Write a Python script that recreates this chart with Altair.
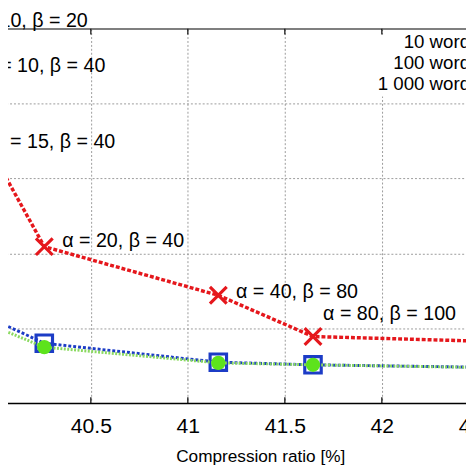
import altair as alt
import pandas as pd

# compression ratio [%] of each parameter setting (first three lie left of the visible area)
ratio = [39.73, 39.83, 39.92, 40.26, 41.157, 41.645, 42.9]

# one curve per dictionary size (y axis itself is outside the picture)
words_10 = [5.20, 4.54, 3.68, 2.09, 1.44, 0.89, 0.80]
words_100 = [1.44, 1.32, 1.21, 0.80, 0.547, 0.512, 0.465]
words_1000 = [1.31, 1.21, 1.11, 0.748, 0.538, 0.512, 0.46]

# parameter annotations next to the red curve
param_labels = ["α = 10, β = 20", "α = 10, β = 40", "α = 15, β = 40",
                "α = 20, β = 40", "α = 40, β = 80", "α = 80, β = 100"]
label_ratio = [39.855, 39.946, 39.997, 40.352, 41.248, 41.697]
label_val = [5.10, 4.50, 3.49, 2.165, 1.483, 1.194]

legend_labels = ["10 words", "100 words", "1 000 words"]
tick_values = [40, 40.5, 41, 41.5, 42, 42.5]

FONT = "Liberation Sans"
W, H = 493.5, 381

x_scale = alt.Scale(domain=[40, 42.5], nice=False, zero=False)
y_scale = alt.Scale(domain=[0, 5], nice=False, zero=False)

x_axis = alt.Axis(values=tick_values, format=".1~f", grid=True, gridDash=[2, 2],
                  gridColor="#9a9a9a", gridWidth=1, ticks=False, labelFontSize=21.5,
                  labelPadding=13, labelColor="black", labelFlush=False, labelOverlap=False,
                  domainColor="black", domainWidth=1.2, titleFontSize=17.5,
                  titleFontWeight="normal", titleColor="black", titleX=271, titleY=59,
                  titleBaseline="alphabetic", titleAlign="center")
y_axis = alt.Axis(values=[1, 2, 3, 4], grid=True, gridDash=[2, 2], gridColor="#9a9a9a",
                  gridWidth=1, labels=False, ticks=False, domain=False, title=None)

# 그리드용 빈 레이어
grid_df = pd.DataFrame({"ratio": [40.0], "val": [0.0]})
grid = alt.Chart(grid_df).mark_point(opacity=0).encode(
    x=alt.X("ratio:Q", scale=x_scale, axis=x_axis, title="Compression ratio [%]"),
    y=alt.Y("val:Q", scale=y_scale, axis=y_axis)
)

# white legend box (symbols are cut off on the right)
legend_box = alt.Chart(pd.DataFrame({"a": [0]})).mark_rect(fill="white").encode(
    x=alt.value(378), x2=alt.value(500), y=alt.value(6), y2=alt.value(69)
)

series = [
    ("10 words", words_10, "#e5171c", [4, 2], 3.5, "M-1,-1L1,1M-1,1L1,-1", False, 290),
    ("100 words", words_100, "#1c3cc6", [3, 2], 3.0, "square", False, 280),
    ("1 000 words", words_1000, "#5de31c", [2, 1.5], 3.0, "circle", True, 210),
]

layers = [grid, legend_box]
for name, vals, color, dash, lw, shape, filled, size in series:
    df = pd.DataFrame({"ratio": ratio, "val": vals})
    line_color = "#8ad95f" if name == "1 000 words" else color
    line = alt.Chart(df).mark_line(color=line_color, strokeDash=dash, strokeWidth=lw).encode(
        x=alt.X("ratio:Q", scale=x_scale), y=alt.Y("val:Q", scale=y_scale)
    )
    if filled:
        pts = alt.Chart(df).mark_point(shape=shape, filled=True, fill=color, size=size,
                                       opacity=1, strokeWidth=0)
    else:
        pts = alt.Chart(df).mark_point(shape=shape, filled=False, stroke=color, size=size,
                                       opacity=1, strokeWidth=3.2)
    pts = pts.encode(x=alt.X("ratio:Q", scale=x_scale), y=alt.Y("val:Q", scale=y_scale))
    layers += [line, pts]

label_df = pd.DataFrame({"ratio": label_ratio, "val": label_val, "txt": param_labels})
labels = alt.Chart(label_df).mark_text(align="left", baseline="middle", fontSize=20,
                                        font=FONT, color="black").encode(
    x=alt.X("ratio:Q", scale=x_scale), y=alt.Y("val:Q", scale=y_scale), text="txt:N"
)
layers.append(labels)

for i, lab in enumerate(legend_labels):
    layers.append(
        alt.Chart(pd.DataFrame({"txt": [lab]})).mark_text(
            align="right", baseline="middle", fontSize=19, font=FONT, color="black"
        ).encode(x=alt.value(494), y=alt.value(14 + 21.2 * i), text="txt:N")
    )

# inner ticks on bottom and top frame
tick_df = pd.DataFrame({"ratio": tick_values})
layers.append(alt.Chart(tick_df).mark_rule(color="black", strokeWidth=1.2).encode(
    x=alt.X("ratio:Q", scale=x_scale), y=alt.value(H), y2=alt.value(H - 6)))
layers.append(alt.Chart(tick_df).mark_rule(color="black", strokeWidth=1.2).encode(
    x=alt.X("ratio:Q", scale=x_scale), y=alt.value(0), y2=alt.value(6)))

chart = alt.layer(*layers).properties(
    width=W, height=H,
    autosize=alt.AutoSizeParams(type="none"),
    padding={"left": -14.4, "top": 17, "right": -13.1, "bottom": 68},
).configure(font=FONT).configure_view(stroke="black", strokeWidth=1.2)

chart.save("out.html", embed_options={"renderer": "svg", "actions": False})
